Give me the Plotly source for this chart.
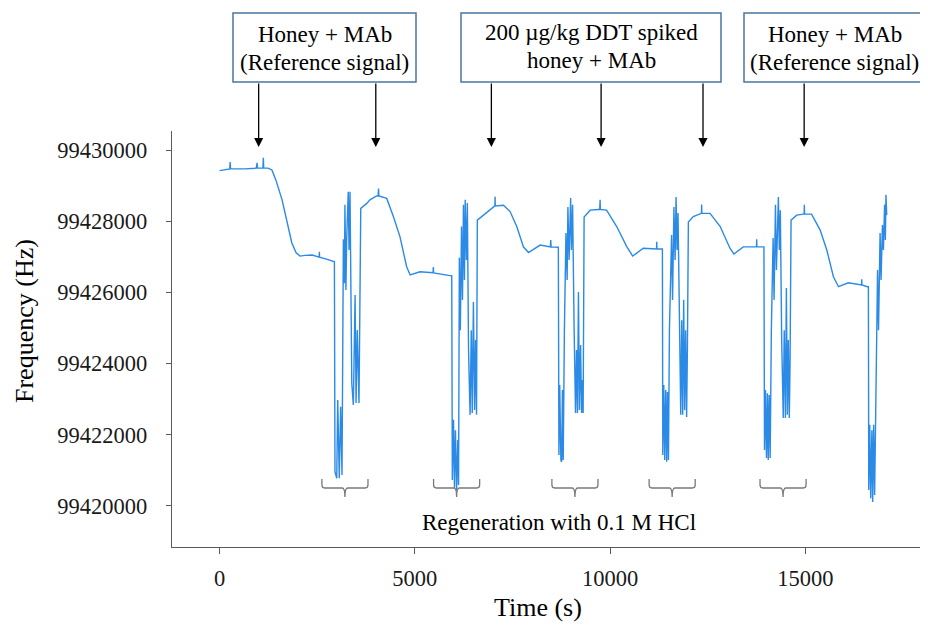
import plotly.graph_objects as go

# ---------------- data ----------------
binding_1_t = [0, 140, 260, 270, 280, 650, 940, 960, 970, 1110, 1120, 1130, 1240, 1340, 1440, 1600, 1750,
               1850, 1960, 2060, 2190, 2370, 2550, 2555, 2560, 2780, 2940]
binding_1_f = [99429420, 99429450, 99429470, 99429660, 99429470, 99429470, 99429490, 99429640, 99429490,
               99429490, 99429780, 99429490, 99429490, 99429440, 99429160, 99428600, 99427890, 99427390,
               99427110, 99427020, 99427040, 99427050, 99426990, 99427140, 99426990, 99426920, 99426860]

regen_1_t = [2955, 3000, 3025, 3065, 3100, 3135, 3170, 3195, 3210, 3235, 3255, 3295, 3315, 3340, 3385, 3425,
             3470, 3495, 3525, 3570, 3615, 3770]
regen_1_f = [99420960, 99420780, 99422980, 99420780, 99422790, 99420870, 99427490, 99426260, 99428460,
             99426070, 99427520, 99428830, 99427190, 99428830, 99423450, 99422840, 99425930, 99422890,
             99424940, 99422890, 99428360, 99428500]

binding_2_t = [3850, 4020, 4060, 4070, 4080, 4280, 4450, 4620, 4790, 4880, 5130, 5465, 5475, 5480, 5900]
binding_2_f = [99428600, 99428710, 99428710, 99428920, 99428710, 99428640, 99428130, 99427560, 99426720,
               99426490, 99426580, 99426550, 99426710, 99426550, 99426470]

regen_2_t = [5945, 5960, 5990, 6015, 6040, 6070, 6100, 6120, 6140, 6165, 6195, 6220, 6245, 6270, 6290, 6320,
             6345, 6375, 6415, 6445, 6470, 6500, 6530, 6555, 6580, 6600]
regen_2_f = [99426470, 99420730, 99422420, 99420510, 99422130, 99420450, 99421850, 99420590, 99426970,
             99424940, 99427850, 99425790, 99428460, 99426350, 99428600, 99426910, 99428510, 99424380,
             99422560, 99424940, 99422610, 99425730, 99422700, 99424660, 99422560, 99428030]

binding_3_t = [6750, 7010, 7050, 7055, 7060, 7270, 7440, 7610, 7780, 7910, 8210, 8470, 8480, 8490, 8630]
binding_3_f = [99428170, 99428410, 99428430, 99428690, 99428430, 99428450, 99428270, 99427850, 99427280,
               99427120, 99427330, 99427280, 99427470, 99427280, 99427270]

regen_3_t = [8675, 8690, 8710, 8740, 8760, 8780, 8800, 8830, 8870, 8900, 8920, 8950, 8990, 9010, 9040, 9080,
             9115, 9140, 9165, 9190, 9215, 9245, 9270, 9295, 9310, 9335]
regen_3_f = [99427270, 99421430, 99423400, 99421290, 99421240, 99423260, 99421290, 99424940, 99427670,
             99426350, 99428400, 99426910, 99428650, 99427190, 99428460, 99424940, 99422610, 99424380,
             99422610, 99426010, 99422700, 99424520, 99422610, 99423540, 99422610, 99428120]

binding_4_t = [9490, 9700, 9735, 9745, 9750, 9910, 10170, 10430, 10580, 10850, 11190, 11195, 11200, 11320]
binding_4_f = [99428310, 99428330, 99428330, 99428600, 99428330, 99428310, 99427850, 99427280, 99427020,
               99427240, 99427220, 99427420, 99427220, 99427220]

regen_4_t = [11340, 11350, 11375, 11400, 11425, 11450, 11470, 11495, 11520, 11575, 11600, 11635, 11665,
             11690, 11715, 11740, 11780, 11810, 11835, 11860, 11885, 11910, 11935, 11960, 11980, 12005]
regen_4_f = [99427220, 99421430, 99423400, 99421290, 99423260, 99421240, 99423200, 99421290, 99424940,
             99427610, 99425790, 99428400, 99426910, 99428680, 99427190, 99428230, 99424660, 99422560,
             99425220, 99422560, 99425790, 99422700, 99424940, 99422500, 99424380, 99427980]

binding_5_t = [12130, 12340, 12345, 12350, 12560, 12820, 13070, 13170, 13410, 13750, 13755, 13760, 13920]
binding_5_f = [99428130, 99428220, 99428470, 99428220, 99428220, 99427850, 99427240, 99427080, 99427280,
               99427280, 99427490, 99427280, 99427280]

regen_5_t = [13940, 13955, 13980, 14005, 14030, 14050, 14075, 14100, 14130, 14175, 14200, 14235, 14260,
             14310, 14335, 14360, 14395, 14435, 14460, 14490, 14515, 14540, 14565, 14590, 14610, 14635]
regen_5_f = [99427280, 99421570, 99423260, 99421350, 99423170, 99421290, 99423120, 99421350, 99424940,
             99427530, 99425790, 99428460, 99426630, 99428680, 99427190, 99428310, 99424660, 99422470,
             99424940, 99422470, 99426120, 99422560, 99424660, 99422470, 99424100, 99428030]

binding_6_t = [14780, 14950, 14970, 14975, 14980, 15160, 15380, 15550, 15720, 15850, 16100, 16440, 16445,
               16450, 16590]
binding_6_f = [99428170, 99428200, 99428200, 99428460, 99428200, 99428200, 99427750, 99427190, 99426440,
               99426160, 99426270, 99426210, 99426370, 99426210, 99426160]

regen_6_t = [16615, 16625, 16650, 16675, 16705, 16725, 16750, 16775, 16810, 16850, 16875, 16915, 16940,
             16975, 17000, 17030, 17050, 17065, 17085]
regen_6_f = [99426160, 99420450, 99422280, 99420220, 99422130, 99420110, 99422280, 99420310, 99423540,
             99426630, 99424940, 99427670, 99426350, 99427890, 99427190, 99428460, 99427470, 99428740,
             99428170]

injection_times = [1000, 4000, 6960, 9770, 12380, 14970]
regen_centers = [3210, 6070, 9100, 11590, 14430]
x_ticks = [0, 5000, 10000, 15000]
y_ticks = [99420000, 99422000, 99424000, 99426000, 99428000, 99430000]

box_lines = [["Honey + MAb", "(Reference signal)"],
             ["200 µg/kg DDT spiked", "honey + MAb"],
             ["Honey + MAb", "(Reference signal)"]]
regen_label = "Regeneration with 0.1 M HCl"
x_title = "Time (s)"
y_title = "Frequency (Hz)"

# ---------------- assemble trace ----------------
segments_t = [binding_1_t, regen_1_t, binding_2_t, regen_2_t, binding_3_t, regen_3_t,
              binding_4_t, regen_4_t, binding_5_t, regen_5_t, binding_6_t, regen_6_t]
segments_f = [binding_1_f, regen_1_f, binding_2_f, regen_2_f, binding_3_f, regen_3_f,
              binding_4_f, regen_4_f, binding_5_f, regen_5_f, binding_6_f, regen_6_f]
time_s, freq_hz = [], []
for st, sf in zip(segments_t, segments_f):
    assert len(st) == len(sf)
    time_s += st
    freq_hz += sf

# ---------------- layout geometry ----------------
# the page body adds an 8px offset; the figure is sized so it ends at the window edge
OFF = 8
W, H = 928 - OFF, 626 - OFF
L, R, T, B = 172 - OFF, 3, 131 - OFF, 79
PW, PH = W - L - R, H - T - B


def pxx(x):  # window pixel -> paper x
    return (x - OFF - L) / PW


def pxy(y):  # window pixel -> paper y
    return (H - B - (y - OFF)) / PH


FONT = "Liberation Serif, Times New Roman, serif"
AX = "#5a5a5a"

fig = go.Figure()
fig.add_trace(go.Scatter(x=time_s, y=freq_hz, mode="lines",
                         line=dict(color="#2a8ae6", width=1.4), hoverinfo="skip",
                         showlegend=False))

shapes = []
annotations = []

# boxes at top
boxes = [(233, 416), (461, 721), (744, 925)]
box_text_y = [(35, 63), (32, 60), (35, 63)]
for (x0, x1), lines, (y1, y2) in zip(boxes, box_lines, box_text_y):
    shapes.append(dict(type="rect", xref="paper", yref="paper",
                       x0=pxx(x0), x1=pxx(x1), y0=pxy(82), y1=pxy(13),
                       line=dict(color="#4a76a0", width=1.5), fillcolor="white"))
    cx = pxx((x0 + x1) / 2)
    for txt, yy in zip(lines, (y1, y2)):
        annotations.append(dict(text=txt, xref="paper", yref="paper", x=cx, y=pxy(yy),
                                showarrow=False, xanchor="center", yanchor="middle",
                                font=dict(family=FONT, size=23, color="black")))

# arrows
for t in injection_times:
    annotations.append(dict(text="", xref="x", yref="paper", x=t, y=pxy(147),
                            ax=0, ay=-65, showarrow=True, arrowhead=2, arrowsize=1.4,
                            arrowwidth=1.3, arrowcolor="black"))

# regeneration brackets
w, dx = 590, 70
ytop, ymid, ytip, dy = 99420760, 99420505, 99420250, 90
for c in regen_centers:
    path = (f"M {c-w},{ytop} L {c-w},{ymid+dy} Q {c-w},{ymid} {c-w+dx},{ymid} "
            f"L {c-dx},{ymid} Q {c},{ymid} {c},{ytip} Q {c},{ymid} {c+dx},{ymid} "
            f"L {c+w-dx},{ymid} Q {c+w},{ymid} {c+w},{ymid+dy} L {c+w},{ytop}")
    shapes.append(dict(type="path", xref="x", yref="y", path=path,
                       line=dict(color="#7a7a7a", width=1.3)))

annotations.append(dict(text=regen_label, xref="paper", yref="paper", x=pxx(559), y=pxy(522),
                        showarrow=False, xanchor="center", yanchor="middle",
                        font=dict(family=FONT, size=23, color="black")))
annotations.append(dict(text=x_title, xref="paper", yref="paper", x=pxx(538), y=pxy(607),
                        showarrow=False, xanchor="center", yanchor="middle",
                        font=dict(family=FONT, size=26, color="black")))
annotations.append(dict(text=y_title, xref="paper", yref="paper", x=pxx(24), y=pxy(321),
                        showarrow=False, xanchor="center", yanchor="middle", textangle=-90,
                        font=dict(family=FONT, size=26, color="black")))

fig.update_layout(
    width=W, height=H,
    margin=dict(l=L, r=R, t=T, b=B, pad=0),
    paper_bgcolor="white", plot_bgcolor="white",
    shapes=shapes, annotations=annotations,
    xaxis=dict(range=[-1219, 18065], tickvals=x_ticks, tickformat="d",
               showline=True, linecolor=AX, linewidth=1.3, ticks="outside", ticklen=6,
               tickcolor=AX, tickwidth=1.2, showgrid=False, zeroline=False,
               ticklabelstandoff=5,
               tickfont=dict(family=FONT, size=22.5, color="#1a1a1a")),
    yaxis=dict(range=[99418848, 99430534], tickvals=y_ticks, tickformat="d",
               showline=True, linecolor=AX, linewidth=1.3, ticks="outside", ticklen=5,
               tickcolor=AX, tickwidth=1.2, showgrid=False, zeroline=False,
               ticklabelstandoff=14,
               tickfont=dict(family=FONT, size=22.5, color="#1a1a1a")),
    font=dict(family=FONT),
)

fig.write_html("out.html")
